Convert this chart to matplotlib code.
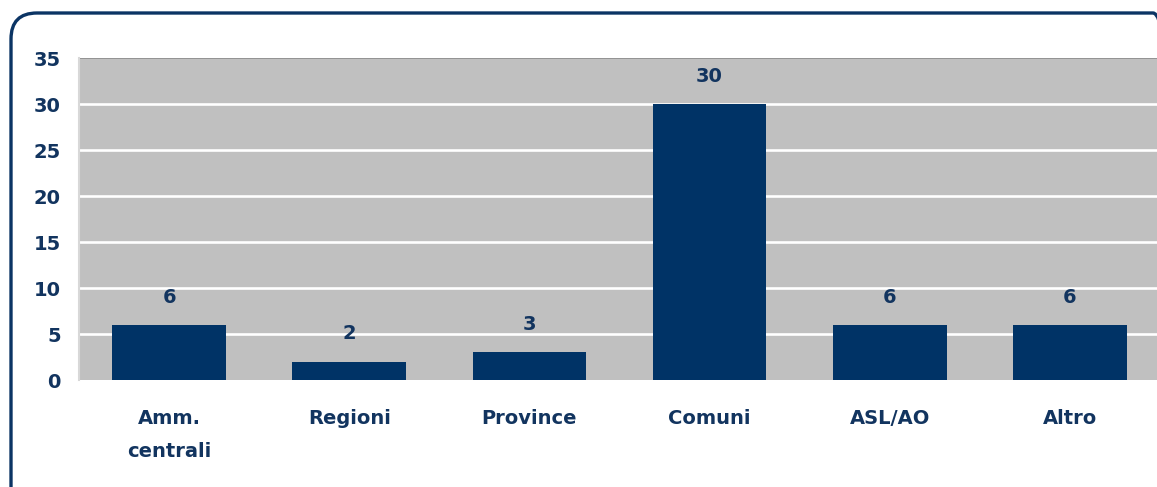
import matplotlib.pyplot as plt
from matplotlib.patches import FancyBboxPatch
import numpy as np

# data
categories = ['Amm.\ncentrali', 'Regioni', 'Province', 'Comuni', 'ASL/AO', 'Altro']
values = [6, 2, 3, 30, 6, 6]
yticks = [0, 5, 10, 15, 20, 25, 30, 35]

navy = '#003366'
text_col = '#12345f'

fig = plt.figure(figsize=(11.57, 4.87), dpi=100)
W, H = 1157, 487

# rounded frame round the chart (pixel coords)
frame = FancyBboxPatch((11, -40), 1168, 40 + H - 13,
                       boxstyle='round,pad=0,rounding_size=26',
                       transform=None, fill=False, edgecolor='#0b3464',
                       linewidth=2.4, clip_on=False)
fig.patches.append(frame)

left, right, top, bottom = 79, 1160, 58, 380
ax = fig.add_axes([left / W, (H - bottom) / H, (right - left) / W, (bottom - top) / H])
ax.set_facecolor('#c0c0c0')

x = np.arange(len(categories))
ax.bar(x, values, width=0.63, color=navy, zorder=3)
for xi, v in zip(x, values):
    ax.annotate(str(v), (xi, v), xytext=(0, 20), textcoords='offset points',
                ha='center', va='center', fontsize=14, fontweight='bold', color=text_col)

ax.set_xlim(-0.5, len(categories) - 0.5)
ax.set_ylim(0, 35)
ax.set_yticks(yticks)
ax.set_xticks(x)
ax.set_xticklabels(categories, linespacing=1.9)
for gy in yticks[1:-1]:
    ax.axhline(gy, color='white', linewidth=1.9, zorder=2)
ax.axhline(35, color='#8c8c8c', linewidth=1.2, zorder=2)

ax.tick_params(axis='both', length=0, labelsize=14, labelcolor=text_col)
ax.tick_params(axis='y', pad=13)
ax.tick_params(axis='x', pad=21)
for lab in ax.get_xticklabels() + ax.get_yticklabels():
    lab.set_fontweight('bold')

for s in ['top', 'right', 'bottom']:
    ax.spines[s].set_visible(False)
ax.spines['left'].set_color('#d8d8d8')
ax.spines['left'].set_linewidth(1.5)

fig.savefig('out.png', dpi=100)
